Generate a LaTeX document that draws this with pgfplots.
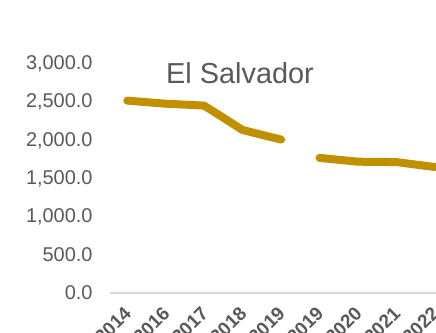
\documentclass[border=0pt]{standalone}
\usepackage{pgfplots}
\pgfplotsset{compat=1.18}
\usepackage{fontspec}
\setmainfont{Liberation Sans}
\definecolor{gold}{RGB}{192,144,0}
\definecolor{lab}{RGB}{89,89,89}
\definecolor{axgray}{RGB}{217,217,217}
\begin{document}
\begin{tikzpicture}
\clip (0bp,0bp) rectangle (436bp,333bp);
\begin{axis}[
  at={(110bp,40bp)}, anchor=south west,
  scale only axis, width=346bp, height=229bp,
  xmin=-0.45, xmax=8.55, ymin=0, ymax=3000,
  clip=false,
  axis x line*=bottom, axis y line*=left,
  y axis line style={draw=none},
  x axis line style={draw=axgray, line width=1.2bp, -},
  major tick length=0pt,
  xtick={0,...,8},
  xticklabels={2014,2016,2017,2018,2019,2019,2020,2021,2022},
  xticklabel style={xshift=3bp, yshift=-15bp, rotate=45, anchor=east, font=\fontsize{19}{21}\selectfont\bfseries, text=lab},
  ytick={0,500,...,3000},
  yticklabel style={xshift=-14bp, font=\fontsize{20}{22}\selectfont, text=lab, /pgf/number format/.cd, fixed, fixed zerofill, precision=1, 1000 sep={,}, assume math mode=true},
]
\addplot[gold, line width=8bp, line cap=round, line join=round] coordinates {(0,2520)(1,2480)(2,2455)(3,2135)(4,2010)};
\addplot[gold, line width=8bp, line cap=round, line join=round] coordinates {(5,1770)(6,1720)(7,1715)(8,1650)};
\end{axis}
\node[font=\fontsize{29}{32}\selectfont, text=lab] at (240bp,260bp) {El Salvador};
\end{tikzpicture}
\end{document}
